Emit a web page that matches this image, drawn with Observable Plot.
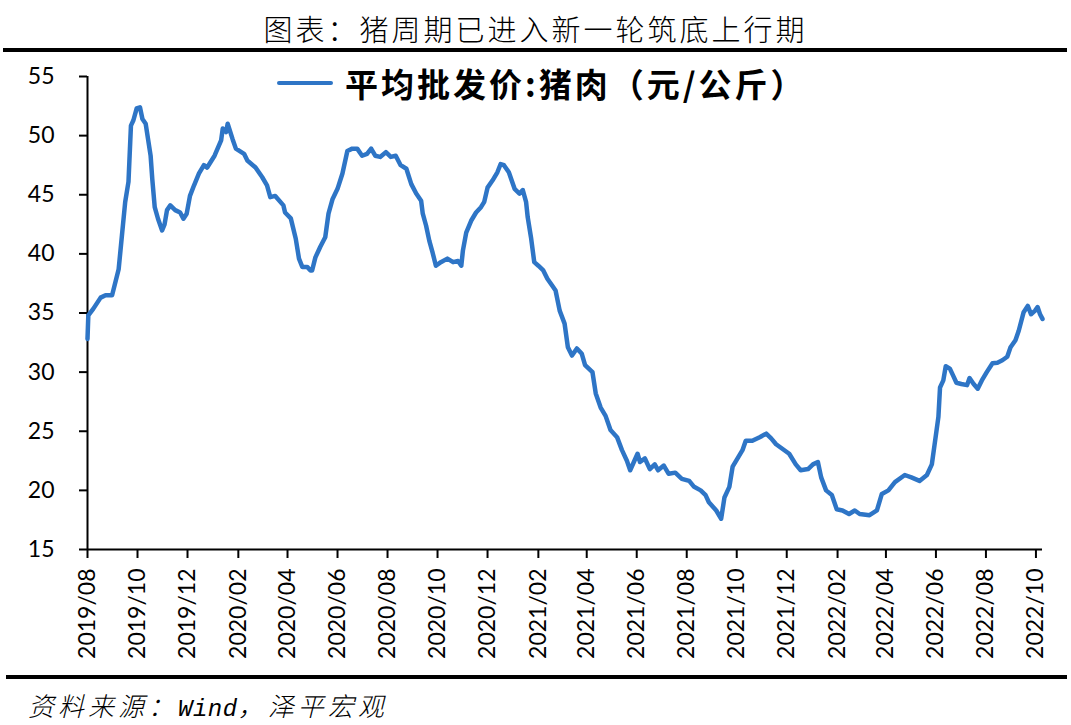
<!DOCTYPE html>
<html><head><meta charset="utf-8">
<script src="https://cdn.jsdelivr.net/npm/d3@7"></script>
<script src="https://cdn.jsdelivr.net/npm/@observablehq/plot@0.6"></script>
<style>
body{margin:0;background:#fff;width:1071px;height:725px;position:relative;overflow:hidden;}
#title{position:absolute;left:0;width:1071px;top:13px;text-align:center;font-family:"Noto Sans CJK SC";font-size:29px;font-weight:300;letter-spacing:3px;color:#000;line-height:1.1;}
.rule{position:absolute;background:#000;}
#chart{position:absolute;left:0;top:55px;}
#legend{position:absolute;left:277px;top:62px;height:42px;display:flex;align-items:center;}
#legend .sw{width:56px;height:4px;background:#2e75c6;border-radius:2px;margin-right:12px;}
#legend .tx{font-family:"Noto Sans CJK SC";font-weight:700;font-size:33px;letter-spacing:3px;color:#000;white-space:nowrap;}
#source{position:absolute;left:28px;top:686px;font-family:"Noto Sans CJK SC";font-style:italic;font-weight:300;font-size:26px;letter-spacing:4px;color:#000;white-space:nowrap;}
#source .w{font-family:"Liberation Mono";font-style:italic;font-size:24px;letter-spacing:0.5px;}
</style></head>
<body>
<div id="title">图表：猪周期已进入新一轮筑底上行期</div>
<div class="rule" style="left:3px;top:48px;width:1064px;height:4px;"></div>
<div id="chart"></div>
<div id="legend"><div class="sw"></div><div class="tx">平均批发价:猪肉（元/公斤）</div></div>
<div class="rule" style="left:6px;top:675px;width:1061px;height:4px;"></div>
<div id="source">资料来源：<span class="w">Wind</span>，泽平宏观</div>
<script>
const dates = [
"2019-08-01","2019-08-02","2019-08-08","2019-08-17","2019-08-23","2019-08-31","2019-09-08","2019-09-12","2019-09-16","2019-09-20",
"2019-09-23","2019-09-26","2019-09-30","2019-10-04","2019-10-07","2019-10-11","2019-10-17","2019-10-19","2019-10-22","2019-10-26",
"2019-10-31","2019-11-03","2019-11-06","2019-11-10","2019-11-16","2019-11-22","2019-11-26","2019-11-30","2019-12-04","2019-12-09",
"2019-12-15","2019-12-21","2019-12-25","2020-01-03","2020-01-11","2020-01-13","2020-01-17","2020-01-19","2020-01-25","2020-01-29",
"2020-02-08","2020-02-12","2020-02-22","2020-03-01","2020-03-07","2020-03-11","2020-03-17","2020-03-27","2020-03-29","2020-04-05",
"2020-04-11","2020-04-15","2020-04-19","2020-04-25","2020-04-29","2020-05-01","2020-05-05","2020-05-11","2020-05-17","2020-05-21",
"2020-05-26","2020-06-01","2020-06-07","2020-06-13","2020-06-19","2020-06-25","2020-07-01","2020-07-07","2020-07-12","2020-07-17",
"2020-07-23","2020-07-30","2020-08-05","2020-08-11","2020-08-17","2020-08-24","2020-08-30","2020-09-05","2020-09-11","2020-09-13",
"2020-09-17","2020-09-21","2020-09-25","2020-09-29","2020-10-05","2020-10-13","2020-10-20","2020-10-26","2020-10-30","2020-11-01",
"2020-11-05","2020-11-11","2020-11-17","2020-11-23","2020-11-27","2020-12-01","2020-12-07","2020-12-13","2020-12-17","2020-12-21",
"2020-12-27","2021-01-03","2021-01-09","2021-01-13","2021-01-17","2021-01-19","2021-01-23","2021-01-27","2021-02-01","2021-02-07",
"2021-02-12","2021-02-18","2021-02-22","2021-02-27","2021-03-05","2021-03-09","2021-03-14","2021-03-20","2021-03-26","2021-03-30",
"2021-04-08","2021-04-12","2021-04-18","2021-04-24","2021-04-30","2021-05-08","2021-05-14","2021-05-20","2021-05-24","2021-06-02",
"2021-06-05","2021-06-11","2021-06-17","2021-06-23","2021-06-27","2021-07-04","2021-07-10","2021-07-18","2021-07-26","2021-08-04",
"2021-08-10","2021-08-18","2021-08-24","2021-08-28","2021-09-06","2021-09-12","2021-09-16","2021-09-22","2021-09-26","2021-10-02",
"2021-10-08","2021-10-12","2021-10-20","2021-10-29","2021-11-06","2021-11-12","2021-11-18","2021-11-26","2021-12-04","2021-12-12",
"2021-12-18","2021-12-27","2022-01-02","2022-01-08","2022-01-12","2022-01-18","2022-01-25","2022-01-31","2022-02-07","2022-02-15",
"2022-02-22","2022-02-28","2022-03-12","2022-03-21","2022-03-27","2022-04-04","2022-04-12","2022-04-24","2022-05-02","2022-05-12",
"2022-05-21","2022-05-27","2022-05-31","2022-06-04","2022-06-06","2022-06-10","2022-06-13","2022-06-18","2022-06-22","2022-06-26",
"2022-07-02","2022-07-09","2022-07-12","2022-07-17","2022-07-22","2022-07-27","2022-08-02","2022-08-09","2022-08-15","2022-08-21",
"2022-08-27","2022-08-31","2022-09-06","2022-09-10","2022-09-16","2022-09-21","2022-09-25","2022-09-30","2022-10-03","2022-10-06",
"2022-10-09"
];
const prices = [
32.8,34.8,35.35,36.3,36.5,36.5,38.7,41.55,44.4,46.1,
50.85,51.3,52.3,52.4,51.4,51.0,48.3,46.35,43.95,42.97,
41.98,42.5,43.7,44.1,43.7,43.5,42.97,43.4,44.9,45.8,
46.8,47.5,47.3,48.3,49.6,50.6,50.3,51.0,49.7,48.9,
48.46,47.9,47.3,46.5,45.8,44.8,44.9,44.1,43.5,43.0,
41.3,39.6,38.9,38.9,38.6,38.6,39.7,40.6,41.4,43.4,
44.65,45.5,46.8,48.7,48.9,48.9,48.3,48.46,48.9,48.3,
48.2,48.6,48.2,48.3,47.5,47.2,45.9,45.1,44.5,43.4,
42.4,41.1,40.1,39.0,39.3,39.6,39.3,39.4,39.0,40.3,
41.8,42.8,43.5,43.95,44.4,45.6,46.2,46.9,47.6,47.5,
46.9,45.5,45.1,45.4,44.4,43.1,41.4,39.3,39.0,38.6,
37.9,37.3,36.9,35.2,34.1,32.1,31.4,32.0,31.55,30.6,
30.0,28.2,27.0,26.3,25.1,24.5,23.4,22.5,21.7,23.1,
22.4,22.7,21.8,22.2,21.7,22.1,21.4,21.5,20.98,20.8,
20.3,20.0,19.6,19.0,18.3,17.6,19.4,20.3,22.0,22.7,
23.4,24.2,24.2,24.5,24.8,24.4,23.9,23.5,23.1,22.2,
21.7,21.8,22.2,22.4,21.1,20.0,19.6,18.4,18.3,18.0,
18.3,18.0,17.9,18.3,19.7,20.0,20.7,21.3,21.1,20.8,
21.3,22.2,24.2,26.2,28.7,29.3,30.5,30.3,29.7,29.1,
29.0,28.9,29.5,29.0,28.6,29.3,30.0,30.75,30.8,31.0,
31.3,32.1,32.7,33.5,35.07,35.6,34.9,35.2,35.5,34.9,
34.5
];
const xTickLabels = ["2019/08","2019/10","2019/12","2020/02","2020/04","2020/06","2020/08","2020/10","2020/12","2021/02","2021/04","2021/06","2021/08","2021/10","2021/12","2022/02","2022/04","2022/06","2022/08","2022/10"];
const yTicks = [15,20,25,30,35,40,45,50,55];

const parse = d3.utcParse("%Y-%m-%d");
const data = dates.map((d, i) => ({date: parse(d), price: prices[i]}));
const xTicks = xTickLabels.map(s => d3.utcParse("%Y/%m")(s));
const x0 = data[0].date, x1 = data[data.length - 1].date;

const chart = Plot.plot({
  width: 1071,
  height: 617,
  marginLeft: 87,
  marginRight: 29,
  marginTop: 21,
  marginBottom: 123,
  style: {fontFamily: "Lato", fontSize: "23px", color: "#000", background: "transparent", overflow: "visible"},
  x: {type: "utc", domain: [x0, x1]},
  y: {domain: [15, 55]},
  marks: [
    Plot.axisY({ticks: yTicks, tickSize: 8, tickPadding: 25, strokeWidth: 2, label: null, fontSize: 23, fill: "#000"}),
    Plot.axisX({ticks: xTicks, tickFormat: d3.utcFormat("%Y/%m"), tickSize: 9, tickPadding: 10, tickRotate: -90, strokeWidth: 2, label: null, fontSize: 23, fill: "#000"}),
    Plot.ruleY([15], {stroke: "#000", strokeWidth: 2}),
    Plot.ruleX([x0], {stroke: "#000", strokeWidth: 2}),
    Plot.line(data, {x: "date", y: "price", stroke: "#2e75c6", strokeWidth: 4.5, strokeLinejoin: "round", strokeLinecap: "round"})
  ]
});
document.getElementById("chart").appendChild(chart);
</script>
</body></html>
